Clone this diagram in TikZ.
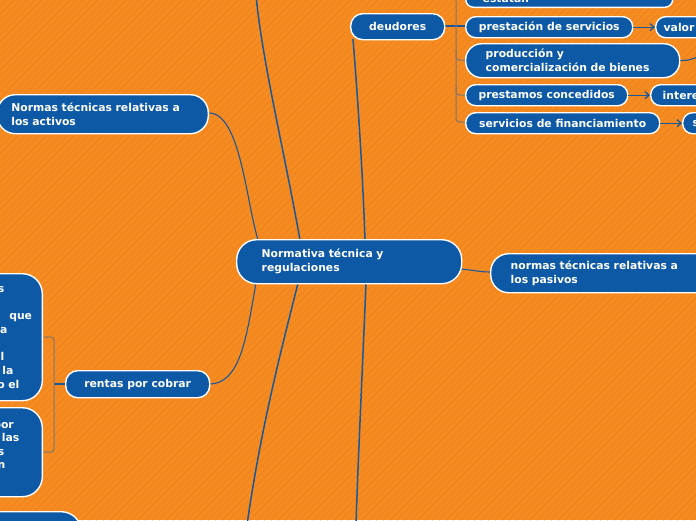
\documentclass[tikz,border=0pt]{standalone}
\usepackage{fontspec}
\setmainfont{DejaVu Sans}
\usetikzlibrary{arrows.meta}
\definecolor{bgorange}{RGB}{246,139,31}
\definecolor{stripeorange}{RGB}{238,133,32}
\definecolor{nodeblue}{RGB}{13,89,165}
\definecolor{lineblue}{RGB}{26,88,155}
\definecolor{brgray}{RGB}{128,118,108}
\tikzset{
  box/.style={draw=white, line width=1.4pt, fill=nodeblue, text=white,
    font=\bfseries\fontsize{10.8}{14}\selectfont, inner ysep=2pt},
  conn/.style={draw=lineblue, line width=1.5pt},
  thinconn/.style={draw=lineblue, line width=1.1pt},
  brk/.style={draw=brgray, line width=1pt, rounded corners=3pt},
  arr/.style={draw=lineblue, line width=1.3pt, -{Straight Barb[length=4pt,width=7pt]}},
  stripe/.style={draw=stripeorange, line width=1.2pt}
}
\begin{document}
\begin{tikzpicture}[x=1pt,y=-1pt]
\fill[bgorange] (0,0) rectangle (696,520);
\useasboundingbox (0,0) rectangle (696,520);
\begin{scope}
\clip (0,0) rectangle (696,520);
\foreach \i in {0,7,...,1225} \draw[stripe] (\i,0) -- (\i-520,520);

% connectors first
\coordinate (topend) at (256,-5);
\coordinate (botend1) at (247,525);
\coordinate (botend2) at (356,525);
\coordinate (prodend) at (700,56);

\draw[conn] (300,240) .. controls (284,150) and (262,60) .. (topend);
\draw[conn] (298,283) .. controls (284,340) and (262,420) .. (botend1);
\draw[conn] (366,283) .. controls (362,380) and (358,460) .. (botend2);
\draw[thinconn] (209,113) .. controls (240,113) and (246,200) .. (258,240);
\draw[thinconn] (256,283) .. controls (246,340) and (240,384) .. (209,384);
\draw[conn] (353,39) .. controls (358,100) and (363,180) .. (365,240);
\draw[thinconn] (459,269) .. controls (475,270) and (478,272) .. (491,272);

% deudores bracket
\draw[thinconn] (444,26) -- (465,26);
\draw[brk] (456,-10) -- (456,122) -- (465,122);
\draw[brk] (456,50) |- (465,60);
\draw[brk] (456,85) |- (465,95);
% rentas bracket
\draw[thinconn] (65,384) -- (54,384);
\draw[brk] (43,337) -- (54,337) -- (54,452) -- (43,452);

% nodes
\node[box, rounded corners=20pt, anchor=north west, minimum height=44pt,
  text width=175pt, inner xsep=25pt, align=left] (central) at (236,239)
  {Normativa técnica y\\regulaciones};
\node[box, rounded corners=18pt, anchor=north west, minimum height=39pt,
  text width=190pt, inner xsep=20pt, align=left] (pasivos) at (490,253)
  {normas técnicas relativas a\\los pasivos};
\node[box, rounded corners=18pt, anchor=north east, minimum height=39pt,
  text width=183pt, inner xsep=14pt, align=left] (activos) at (209,94)
  {Normas técnicas relativas a\\los activos};
\node[box, rounded corners=12pt, anchor=north west, minimum height=27pt,
  minimum width=144pt] (rentas) at (65,370) {rentas por cobrar};
\node[box, rounded corners=12pt, anchor=north west, minimum height=26pt,
  minimum width=94pt] (deudores) at (350,13) {deudores};
\node[box, rounded corners=8pt, anchor=south west, minimum height=18pt,
  inner ysep=1pt, text width=173pt, inner xsep=17pt, align=left] (estatal) at (465,8)
  {estatal.};
\node[box, rounded corners=10pt, anchor=north west, minimum height=21pt,
  minimum width=167pt] (prest) at (465,16) {prestación de servicios};
\node[box, rounded corners=10pt, anchor=north west, minimum height=21pt,
  text width=60pt, inner xsep=8pt, align=left] (valor) at (655,16) {valor};
\node[box, rounded corners=16pt, anchor=north west, minimum height=34pt,
  text width=174pt, inner xsep=20pt, align=left] (prod) at (465,43)
  {producción y\\comercialización de bienes};
\node[box, rounded corners=10pt, anchor=north west, minimum height=21pt,
  minimum width=162pt] (prestamos) at (465,84) {prestamos concedidos};
\node[box, rounded corners=10pt, anchor=north west, minimum height=21pt,
  text width=60pt, inner xsep=12pt, align=left] (interes) at (650,84) {intere};
\node[box, rounded corners=10pt, anchor=north west, minimum height=21pt,
  minimum width=194pt] (servfin) at (465,112) {servicios de financiamiento};
\node[box, rounded corners=10pt, anchor=north west, minimum height=21pt,
  text width=60pt, inner xsep=10pt, align=left] (sfin) at (682,112) {s};

\node[box, rounded corners=20pt, anchor=north east, minimum height=127pt,
  text width=80pt, inner xsep=8pt, align=left,
  font=\bfseries\fontsize{10.8}{13.7}\selectfont] (left1) at (43,273)
  {\hspace*{43.6pt}s\\\mbox{}\\\hspace*{55pt}que\\\hspace*{42pt}la\\\mbox{}\\\hspace*{39pt}el\\\hspace*{48pt}la\\\hspace*{43pt}o el};
\node[box, rounded corners=20pt, anchor=north east, minimum height=89pt,
  text width=80pt, inner xsep=8pt, align=left,
  font=\bfseries\fontsize{10.8}{13.5}\selectfont] (left2) at (43,407)
  {\hspace*{39pt}por\\\hspace*{47.6pt}las\\\hspace*{43.6pt}s\\\hspace*{43.3pt}n\\\mbox{}};
\node[box, rounded corners=20pt, anchor=north east, minimum height=40pt,
  minimum width=130pt] (left3) at (82,511) {};

% arrows
\draw[arr] (prest.east) -- (valor.west);
\draw[arr] (prestamos.east) -- (interes.west);
\draw[arr] (servfin.east) -- (sfin.west);
\draw[thinconn] (prod.east) .. controls (690,60) .. (prodend);
\end{scope}
\end{tikzpicture}
\end{document}
